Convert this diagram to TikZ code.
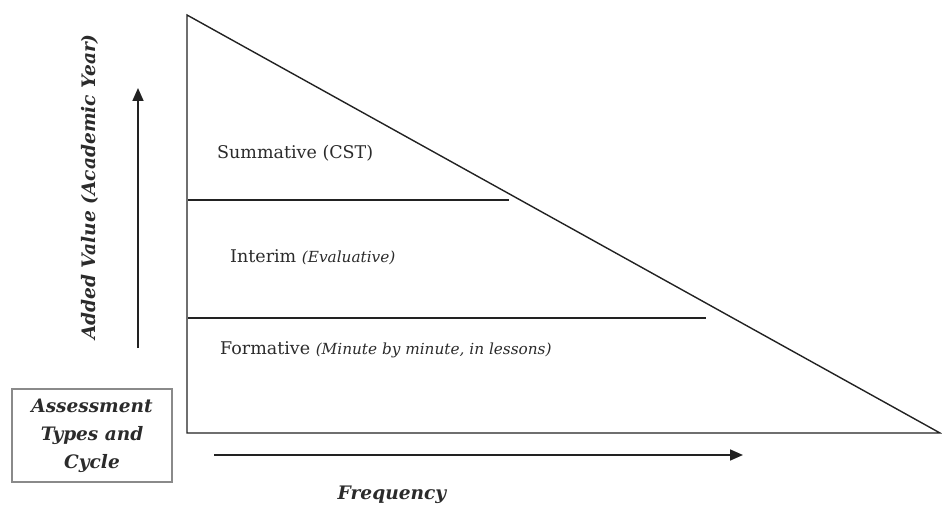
\documentclass[tikz,border=0pt]{standalone}
\usepackage{fontspec}
\setmainfont{DejaVu Serif}
\usetikzlibrary{arrows.meta}
\definecolor{ink}{HTML}{222222}
\definecolor{txt}{HTML}{2B2B2B}
\definecolor{boxgrey}{HTML}{8A8A8A}
\tikzset{
  edge/.style={draw=ink, line width=1.4pt},
  arrowline/.style={draw=ink, line width=1.6pt, -{Triangle[length=13pt,width=11pt]}},
  lbl/.style={text=txt, anchor=west, inner sep=0pt, font=\fontsize{17.5}{20}\selectfont},
  axislbl/.style={text=txt, inner sep=0pt, font=\fontsize{18.6}{22}\selectfont\bfseries\itshape}
}
\newcommand{\subit}[1]{{\fontsize{15.3}{18}\selectfont\itshape #1}}
\begin{document}
\begin{tikzpicture}[x=1pt,y=-1pt]
\useasboundingbox (0,0) rectangle (942,508);
% triangle
\coordinate (A) at (187,15);
\coordinate (B) at (187,433);
\coordinate (C) at (940,433);
\draw[edge, line join=miter] (A) -- (B) -- (C) -- cycle;
% dividers
\coordinate (s1) at (188,200);
\coordinate (s2) at (509,200);
\coordinate (i1) at (188,318);
\coordinate (i2) at (706,318);
\draw[edge] (s1) -- (s2);
\draw[edge] (i1) -- (i2);
% labels
\node[lbl] (sum) at (217,153) {Summative (CST)};
\node[lbl] (int) at (230,257) {Interim \subit{(Evaluative)}};
\node[lbl] (form) at (220,350) {Formative \subit{(Minute by minute, in lessons)}};
% axes arrows
\coordinate (vb) at (138,348);
\coordinate (vt) at (138,88);
\draw[arrowline] (vb) -- (vt);
\coordinate (hb) at (214,455);
\coordinate (ht) at (743,455);
\draw[arrowline] (hb) -- (ht);
\node[axislbl, rotate=90] (yl) at (90,187) {Added Value (Academic Year)};
\node[axislbl] (xl) at (392,495) {Frequency};
% box
\node[draw=boxgrey, line width=1.2pt, minimum width=160pt, minimum height=93pt,
      align=center, text=txt, inner sep=0pt,
      font=\fontsize{18.5}{28}\selectfont\bfseries\itshape] (box) at (92,435.5)
  {Assessment\\Types and\\Cycle};
\end{tikzpicture}
\end{document}
